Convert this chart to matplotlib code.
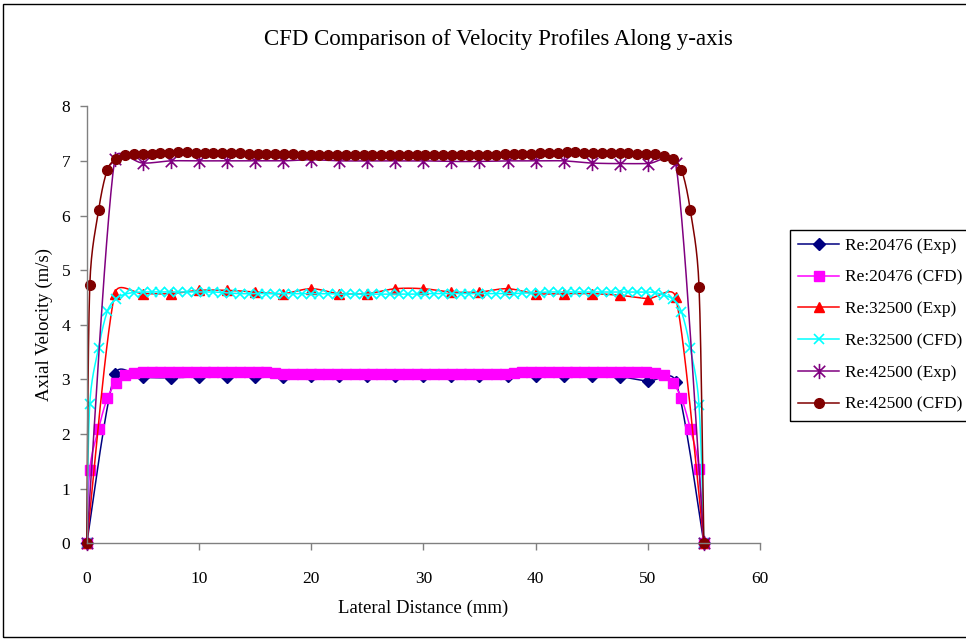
import numpy as np
import matplotlib
matplotlib.use('Agg')
import matplotlib.pyplot as plt
from matplotlib.lines import Line2D
from matplotlib.path import Path
from matplotlib.patches import Rectangle

plt.rcParams['font.family'] = ['Liberation Serif', 'DejaVu Serif']

# experimental stations (mm)
exp_x = [0, 2.5, 5, 7.5, 10, 12.5, 15, 17.5, 20, 22.5, 25, 27.5, 30, 32.5, 35,
         37.5, 40, 42.5, 45, 47.5, 50, 52.5, 55]

exp_20476 = [0, 3.09, 3.04, 3.03, 3.05, 3.05, 3.05, 3.05, 3.06, 3.06, 3.06, 3.06,
             3.06, 3.06, 3.06, 3.06, 3.06, 3.06, 3.06, 3.05, 2.97, 2.96, 0]
exp_32500 = [0, 4.57, 4.57, 4.57, 4.63, 4.63, 4.60, 4.57, 4.66, 4.57, 4.57, 4.66,
             4.66, 4.60, 4.60, 4.66, 4.57, 4.57, 4.57, 4.54, 4.48, 4.50, 0]
exp_42500 = [0, 7.04, 6.96, 7.00, 7.00, 7.00, 7.00, 7.00, 7.02, 7.00, 7.00, 7.00,
             7.00, 6.99, 6.99, 7.00, 7.00, 7.00, 6.96, 6.95, 6.95, 6.96, 0]

# CFD nodes (mm)
cfd_x = [0, 0.27, 1.06, 1.84, 2.63, 3.42, 4.21, 4.99, 5.78, 6.57, 7.35, 8.14, 8.93,
         9.71, 10.50, 11.29, 12.08, 12.86, 13.65, 14.44, 15.22, 16.01, 16.80, 17.58,
         18.37, 19.16, 19.95, 20.73, 21.52, 22.31, 23.09, 23.88, 24.67, 25.45, 26.24,
         27.03, 27.82, 28.60, 29.39, 30.18, 30.96, 31.75, 32.54, 33.32, 34.11, 34.90,
         35.69, 36.47, 37.26, 38.05, 38.83, 39.62, 40.41, 41.19, 41.98, 42.77, 43.56,
         44.34, 45.13, 45.92, 46.70, 47.49, 48.28, 49.06, 49.85, 50.64, 51.43, 52.21,
         53.00, 53.79, 54.57, 55]

cfd_20476 = [0, 1.35, 2.10, 2.66, 2.94, 3.08, 3.12,
             3.13, 3.14, 3.14, 3.14, 3.14, 3.14, 3.14, 3.14, 3.14, 3.14, 3.14, 3.14,
             3.14, 3.14, 3.13,
             3.11, 3.10, 3.10, 3.10, 3.10, 3.10, 3.10, 3.10, 3.10, 3.10, 3.10, 3.10,
             3.10, 3.10, 3.10, 3.10, 3.10, 3.10, 3.10, 3.10, 3.10, 3.10, 3.10, 3.10,
             3.10, 3.10, 3.10, 3.11,
             3.13, 3.14, 3.14, 3.14, 3.14, 3.14, 3.14, 3.14, 3.14, 3.14, 3.14, 3.14,
             3.14, 3.14, 3.13,
             3.12, 3.08, 2.94, 2.66, 2.10, 1.36, 0]
cfd_32500 = [0, 2.55, 3.58, 4.25, 4.48, 4.56, 4.59,
             4.60, 4.60, 4.60, 4.60, 4.60, 4.60, 4.60, 4.60, 4.60, 4.59,
             4.58, 4.57, 4.57, 4.57, 4.57, 4.57, 4.57, 4.57, 4.57, 4.57, 4.57, 4.57,
             4.56, 4.56, 4.56, 4.56, 4.56, 4.56, 4.56, 4.56, 4.56, 4.56, 4.57, 4.57,
             4.57, 4.57, 4.57, 4.57, 4.57, 4.57, 4.57, 4.57, 4.57, 4.58, 4.58,
             4.59, 4.60, 4.60, 4.60, 4.60, 4.60, 4.60, 4.60, 4.60, 4.60, 4.60, 4.60,
             4.60,
             4.59, 4.54, 4.47, 4.24, 3.57, 2.53, 0]
cfd_42500 = [0, 4.72, 6.10, 6.84, 7.04, 7.10,
             7.12, 7.13, 7.13, 7.14,
             7.15, 7.16, 7.16, 7.15, 7.15, 7.15, 7.15, 7.15, 7.14,
             7.13, 7.13, 7.13, 7.13, 7.13, 7.13, 7.11, 7.11,
             7.10, 7.10, 7.10, 7.10, 7.10, 7.10, 7.10, 7.10, 7.10, 7.10, 7.10, 7.10,
             7.10, 7.10, 7.10, 7.10, 7.10, 7.10, 7.10, 7.10,
             7.11, 7.12, 7.12, 7.13, 7.13,
             7.14, 7.15, 7.15, 7.16, 7.16, 7.15, 7.15, 7.15, 7.15, 7.14,
             7.14, 7.13, 7.13, 7.12,
             7.09, 7.04, 6.84, 6.10, 4.70, 0]

labels = ['Re:20476 (Exp)', 'Re:20476 (CFD)', 'Re:32500 (Exp)',
          'Re:32500 (CFD)', 'Re:42500 (Exp)', 'Re:42500 (CFD)']

# vertical bar + 45 degree cross, like a spreadsheet "star" marker
star = Path([(0, -1), (0, 1), (-0.75, -0.75), (0.75, 0.75), (-0.75, 0.75), (0.75, -0.75)],
            [Path.MOVETO, Path.LINETO, Path.MOVETO, Path.LINETO, Path.MOVETO, Path.LINETO])

series = [
    (exp_x, exp_20476, '#000080', dict(marker='D', ms=6.5, mfc='#000080', mec='#000080')),
    (cfd_x, cfd_20476, '#FF00FF', dict(marker='s', ms=7, mfc='#FF00FF', mec='#FF00FF')),
    (exp_x, exp_32500, '#FF0000', dict(marker='^', ms=7.5, mfc='#FF0000', mec='#FF0000')),
    (cfd_x, cfd_32500, '#00FFFF', dict(marker='x', ms=7, mec='#00FFFF', mew=1.2)),
    (exp_x, exp_42500, '#800080', dict(marker=star, ms=11, mfc='none', mec='#800080', mew=1.2)),
    (cfd_x, cfd_42500, '#800000', dict(marker='o', ms=7, mfc='#800000', mec='#800000')),
]


def smooth(ax, xs, ys, n=16):
    # bezier smoothing in screen space, arms capped at half the segment length
    P = ax.transData.transform(np.column_stack([xs, ys]))
    out = [P[0]]
    t = np.linspace(0, 1, n)[1:, None]
    for i in range(len(P) - 1):
        p0 = P[i - 1] if i > 0 else P[i]
        p1, p2 = P[i], P[i + 1]
        p3 = P[i + 2] if i + 2 < len(P) else P[i + 1]
        seg = np.hypot(*(p2 - p1))
        a = (p2 - p0) / 6
        b = (p3 - p1) / 6
        la, lb = np.hypot(*a), np.hypot(*b)
        if la > seg / 2:
            a = a * (seg / 2) / la
        if lb > seg / 2:
            b = b * (seg / 2) / lb
        c1, c2 = p1 + a, p2 - b
        pts = (1 - t) ** 3 * p1 + 3 * (1 - t) ** 2 * t * c1 + 3 * (1 - t) * t ** 2 * c2 + t ** 3 * p2
        out.extend(pts)
    return ax.transData.inverted().transform(np.array(out))


fig = plt.figure(figsize=(9.66, 6.4), dpi=100)
ax = fig.add_axes([0.0898, 0.1511, 0.6969, 0.6829])
ax.set_xlim(0, 60)
ax.set_ylim(0, 8)

handles = []
for xs, ys, col, mk in series:
    xy = smooth(ax, xs, ys)
    ax.plot(xy[:, 0], xy[:, 1], color=col, lw=1.1, clip_on=False)
    ax.plot(xs, ys, ls='none', clip_on=False, **mk)
    handles.append(Line2D([], [], color=col, lw=1.1, **mk))

ax.set_xticks(range(0, 61, 10))
ax.set_yticks(range(0, 9))
for s in ['top', 'right']:
    ax.spines[s].set_visible(False)
for s in ['left', 'bottom']:
    ax.spines[s].set_color('#808080')
    ax.spines[s].set_linewidth(1.0)
ax.tick_params(direction='out', length=5, width=1, color='#808080', labelsize=12.5)
ax.tick_params(axis='x', pad=15)
ax.tick_params(axis='y', pad=7)

ax.set_xlabel('Lateral Distance (mm)', fontsize=13.5, labelpad=9)
ax.set_ylabel('Axial Velocity (m/s)', fontsize=13.5, labelpad=6)
fig.text(498 / 966, 1 - 40 / 640, 'CFD Comparison of Velocity Profiles Along y-axis',
         fontsize=16.5, ha='center', va='center')

# legend box runs past the right edge of the chart area
leg = fig.legend(handles, labels, loc='upper left',
                 bbox_to_anchor=(789 / 966, 1 - 229 / 640), fontsize=12.5,
                 frameon=False, handlelength=2.4, labelspacing=0.9, borderpad=0.5,
                 handletextpad=0.3, borderaxespad=0)
fig.patches.append(Rectangle((789.5, 640 - 420.5), 300, 191, transform=None,
                             fill=False, edgecolor='black', lw=1.0))

# chart area border
fig.patches.append(Rectangle((2.5, 3.5), 1100, 633, transform=None, fill=False,
                             edgecolor='black', lw=1.0))

fig.savefig('out.png', dpi=100)
